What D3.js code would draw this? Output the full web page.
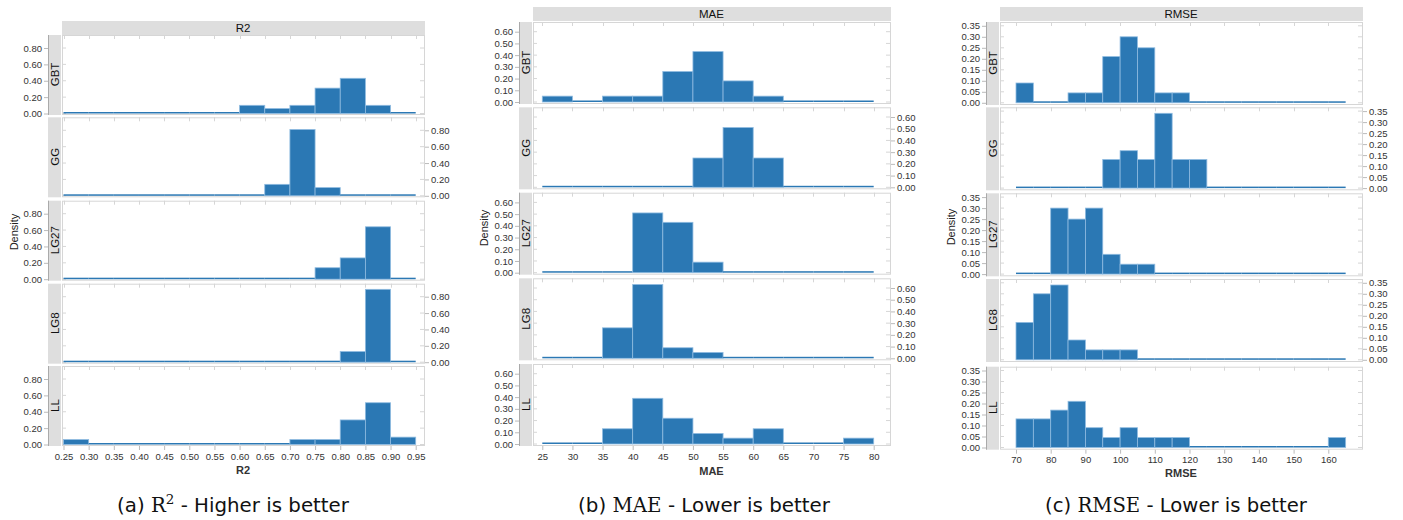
<!DOCTYPE html>
<html>
<head>
<meta charset="utf-8">
<script src="https://cdn.jsdelivr.net/npm/d3@7"></script>
<style>
  body { margin: 0; background: #fff; }
  svg text { font-family: "Liberation Sans", Arial, sans-serif; }
</style>
</head>
<body>
<svg id="chart" width="1403" height="520"></svg>
<script>
// facet rows, same order in every panel
const models = ["GBT", "GG", "LG27", "LG8", "LL"];

// R2 histogram: bin starts (width 0.05) and density per model
const r2Bins = [0.25, 0.30, 0.35, 0.40, 0.45, 0.50, 0.55, 0.60, 0.65, 0.70, 0.75, 0.80, 0.85, 0.90];
const r2GBT  = [0, 0, 0, 0, 0, 0, 0, 0.10, 0.06, 0.10, 0.31, 0.43, 0.10, 0];
const r2GG   = [0, 0, 0, 0, 0, 0, 0, 0, 0.14, 0.81, 0.10, 0, 0, 0];
const r2LG27 = [0, 0, 0, 0, 0, 0, 0, 0, 0, 0, 0.14, 0.26, 0.64, 0];
const r2LG8  = [0, 0, 0, 0, 0, 0, 0, 0, 0, 0, 0, 0.13, 0.89, 0];
const r2LL   = [0.06, 0, 0, 0, 0, 0, 0, 0, 0, 0.06, 0.06, 0.30, 0.51, 0.09];
const r2XTicks = [0.25, 0.30, 0.35, 0.40, 0.45, 0.50, 0.55, 0.60, 0.65, 0.70, 0.75, 0.80, 0.85, 0.90, 0.95];
const r2YTicks = [0, 0.2, 0.4, 0.6, 0.8];

// MAE histogram: bin starts (width 5)
const maeBins = [25, 30, 35, 40, 45, 50, 55, 60, 65, 70, 75];
const maeGBT  = [0.05, 0, 0.05, 0.05, 0.26, 0.43, 0.18, 0.05, 0, 0, 0];
const maeGG   = [0, 0, 0, 0, 0, 0.25, 0.51, 0.25, 0, 0, 0];
const maeLG27 = [0, 0, 0, 0.51, 0.43, 0.09, 0, 0, 0, 0, 0];
const maeLG8  = [0, 0, 0.26, 0.63, 0.09, 0.05, 0, 0, 0, 0, 0];
const maeLL   = [0, 0, 0.13, 0.39, 0.22, 0.09, 0.05, 0.13, 0, 0, 0.05];
const maeXTicks = [25, 30, 35, 40, 45, 50, 55, 60, 65, 70, 75, 80];
const maeYTicks = [0, 0.1, 0.2, 0.3, 0.4, 0.5, 0.6];

// RMSE histogram: bin starts (width 5)
const rmseBins = [70, 75, 80, 85, 90, 95, 100, 105, 110, 115, 120, 125, 130, 135, 140, 145, 150, 155, 160];
const rmseGBT  = [0.09, 0, 0, 0.045, 0.045, 0.21, 0.30, 0.25, 0.045, 0.045, 0, 0, 0, 0, 0, 0, 0, 0, 0];
const rmseGG   = [0, 0, 0, 0, 0, 0.13, 0.17, 0.13, 0.34, 0.13, 0.13, 0, 0, 0, 0, 0, 0, 0, 0];
const rmseLG27 = [0, 0, 0.30, 0.25, 0.30, 0.09, 0.045, 0.045, 0, 0, 0, 0, 0, 0, 0, 0, 0, 0, 0];
const rmseLG8  = [0.17, 0.30, 0.34, 0.09, 0.045, 0.045, 0.045, 0, 0, 0, 0, 0, 0, 0, 0, 0, 0, 0, 0];
const rmseLL   = [0.13, 0.13, 0.17, 0.21, 0.09, 0.045, 0.09, 0.045, 0.045, 0.045, 0, 0, 0, 0, 0, 0, 0, 0, 0.045];
const rmseXTicks = [70, 80, 90, 100, 110, 120, 130, 140, 150, 160];
const rmseYTicks = [0, 0.05, 0.1, 0.15, 0.2, 0.25, 0.3, 0.35];

const svg = d3.select("#chart");
const barFill = "#2b78b4";
const barEdge = "#8fbbe0";
const frame = "#d6d6d6";
const stripFill = "#dedede";
const sansCap = "'DejaVu Sans', 'Open Sans', sans-serif";
const serifCap = "'DejaVu Serif', 'Liberation Serif', serif";

const panels = [
  {
    title: "R2", bins: r2Bins, binW: 0.05, values: [r2GBT, r2GG, r2LG27, r2LG8, r2LL],
    xTicks: r2XTicks, yTicks: r2YTicks, fx: d3.format(".2f"), fy: d3.format(".2f"),
    left: 62, right: 424, xRange: [63.5, 415.7],
    headerTop: 21, rowTops: [35, 117.3, 200.7, 283.7, 366], rowH: 79, zeroOff: 78.5,
    yTopVal: 0.8, yTopPx: 65.5, densityX: 14, densityY: 232,
    tickY: 457, axisTitleY: 474,
    caption: ["(a) ", "R", "2", " - Higher is better"], captionX: 233, captionW: 232
  },
  {
    title: "MAE", bins: maeBins, binW: 5, values: [maeGBT, maeGG, maeLG27, maeLG8, maeLL],
    xTicks: maeXTicks, yTicks: maeYTicks, fx: d3.format("d"), fy: d3.format(".2f"),
    left: 533, right: 890, xRange: [542.3, 873.7],
    headerTop: 7, rowTops: [22, 107.3, 192.7, 278.3, 364], rowH: 81, zeroOff: 80,
    yTopVal: 0.6, yTopPx: 70.3, densityX: 484, densityY: 228,
    tickY: 458, axisTitleY: 475,
    caption: ["(b) ", "MAE", "", " - Lower is better"], captionX: 704, captionW: 252
  },
  {
    title: "RMSE", bins: rmseBins, binW: 5, values: [rmseGBT, rmseGG, rmseLG27, rmseLG8, rmseLL],
    xTicks: rmseXTicks, yTicks: rmseYTicks, fx: d3.format("d"), fy: d3.format(".2f"),
    left: 1000, right: 1362, xRange: [1016, 1328.3],
    headerTop: 7, rowTops: [22, 107.3, 193.3, 279, 366.7], rowH: 82, zeroOff: 80.8,
    yTopVal: 0.35, yTopPx: 77, densityX: 951, densityY: 227,
    tickY: 461, axisTitleY: 477,
    caption: ["(c) ", "RMSE", "", " - Lower is better"], captionX: 1176, captionW: 262
  }
];

function styleAxis(a) {
  a.select(".domain").remove();
  a.selectAll("line").attr("stroke", "#bbb");
  a.selectAll("text").attr("font-size", 9.5).attr("fill", "#333")
    .attr("font-family", "Liberation Sans, Arial, sans-serif");
}

panels.forEach(p => {
  const g = svg.append("g");
  const x = d3.scaleLinear().domain([p.xTicks[0], p.xTicks[p.xTicks.length - 1]]).range(p.xRange);
  const w = p.right - p.left;

  // column header
  g.append("rect").attr("x", p.left).attr("y", p.headerTop).attr("width", w + 1).attr("height", 14)
    .attr("fill", stripFill);
  g.append("text").attr("x", (p.left + p.right) / 2).attr("y", p.headerTop + 11)
    .attr("text-anchor", "middle").attr("font-size", 11.5).attr("fill", "#111").text(p.title);

  models.forEach((m, i) => {
    const top = p.rowTops[i];
    const zero = top + p.zeroOff;
    const y = d3.scaleLinear().domain([0, p.yTopVal]).range([zero, zero - p.yTopPx]);
    const row = g.append("g");

    // frame
    row.append("rect").attr("x", p.left + 0.5).attr("y", top + 0.5).attr("width", w).attr("height", p.rowH)
      .attr("fill", "none").attr("stroke", frame);

    // inner tick marks on top edge and side edges
    row.selectAll(".tt").data(p.xTicks).enter().append("line")
      .attr("x1", d => Math.round(x(d)) + 0.5).attr("x2", d => Math.round(x(d)) + 0.5)
      .attr("y1", top).attr("y2", top + 4).attr("stroke", frame);
    row.selectAll(".yt").data(p.yTicks).enter().append("line")
      .attr("x1", p.left).attr("x2", p.left + 4)
      .attr("y1", d => y(d)).attr("y2", d => y(d)).attr("stroke", frame);
    row.selectAll(".yt2").data(p.yTicks).enter().append("line")
      .attr("x1", p.right - 4).attr("x2", p.right)
      .attr("y1", d => y(d)).attr("y2", d => y(d)).attr("stroke", frame);

    // row strip
    row.append("rect").attr("x", p.left - 14).attr("y", top).attr("width", 13).attr("height", p.rowH + 1)
      .attr("fill", stripFill);
    row.append("text")
      .attr("transform", `translate(${p.left - 3.5},${top + p.rowH / 2}) rotate(-90)`)
      .attr("text-anchor", "middle").attr("font-size", 11.5).attr("fill", "#111").text(m);

    // bars
    const bars = p.bins.map((b, k) => ({ x0: b, x1: b + p.binW, v: p.values[i][k] }));
    row.selectAll(".bar").data(bars).enter().append("rect")
      .attr("x", d => x(d.x0))
      .attr("width", d => x(d.x1) - x(d.x0))
      .attr("y", d => Math.min(y(d.v), zero - 1.5))
      .attr("height", d => zero - Math.min(y(d.v), zero - 1.5))
      .attr("fill", barFill)
      .attr("stroke", d => d.v > 0 ? barEdge : "none")
      .attr("stroke-width", 0.8);

    // y axis: left on odd rows, right on even rows
    if (i % 2 === 0) {
      const ax = p.left - 14;
      row.append("line").attr("x1", ax + 0.5).attr("x2", ax + 0.5).attr("y1", top).attr("y2", top + p.rowH + 1)
        .attr("stroke", "#aaa");
      const a = row.append("g").attr("transform", `translate(${ax},0)`)
        .call(d3.axisLeft(y).tickValues(p.yTicks).tickFormat(p.fy).tickSize(4).tickPadding(2));
      styleAxis(a);
    } else {
      const a = row.append("g").attr("transform", `translate(${p.right + 1},0)`)
        .call(d3.axisRight(y).tickValues(p.yTicks).tickFormat(p.fy).tickSize(4).tickPadding(2));
      styleAxis(a);
    }

    // bottom x axis under the last row
    if (i === models.length - 1) {
      const a = row.append("g").attr("transform", `translate(0,${top + p.rowH + 1})`)
        .call(d3.axisBottom(x).tickValues(p.xTicks).tickFormat(p.fx).tickSize(4).tickPadding(3));
      styleAxis(a);
    }
  });

  // axis titles
  g.append("text").attr("x", (p.left + p.right) / 2).attr("y", p.axisTitleY)
    .attr("text-anchor", "middle").attr("font-size", 11).attr("font-weight", "bold").attr("fill", "#333")
    .text(p.title);
  g.append("text").attr("transform", `translate(${p.densityX + 4},${p.densityY}) rotate(-90)`)
    .attr("text-anchor", "middle").attr("font-size", 11).attr("fill", "#222").text("Density");

  // caption below the panel, sized to the width it takes in the figure
  const cap = g.append("text").attr("x", p.captionX).attr("y", 511.5).attr("text-anchor", "middle")
    .attr("font-size", 18).attr("fill", "#111");
  cap.append("tspan").attr("font-family", sansCap).text(p.caption[0]);
  cap.append("tspan").attr("font-family", serifCap).text(p.caption[1]);
  if (p.caption[2]) {
    cap.append("tspan").attr("font-family", serifCap).attr("font-size", "0.68em")
      .attr("dy", "-0.55em").text(p.caption[2]);
    cap.append("tspan").attr("font-family", sansCap).attr("dy", "0.374em").text(p.caption[3]);
  } else {
    cap.append("tspan").attr("font-family", sansCap).text(p.caption[3]);
  }
  const len = cap.node().getComputedTextLength();
  const fs = Math.max(14, Math.min(22, 18 * p.captionW / len));
  cap.attr("font-size", fs);
});
</script>
</body>
</html>
